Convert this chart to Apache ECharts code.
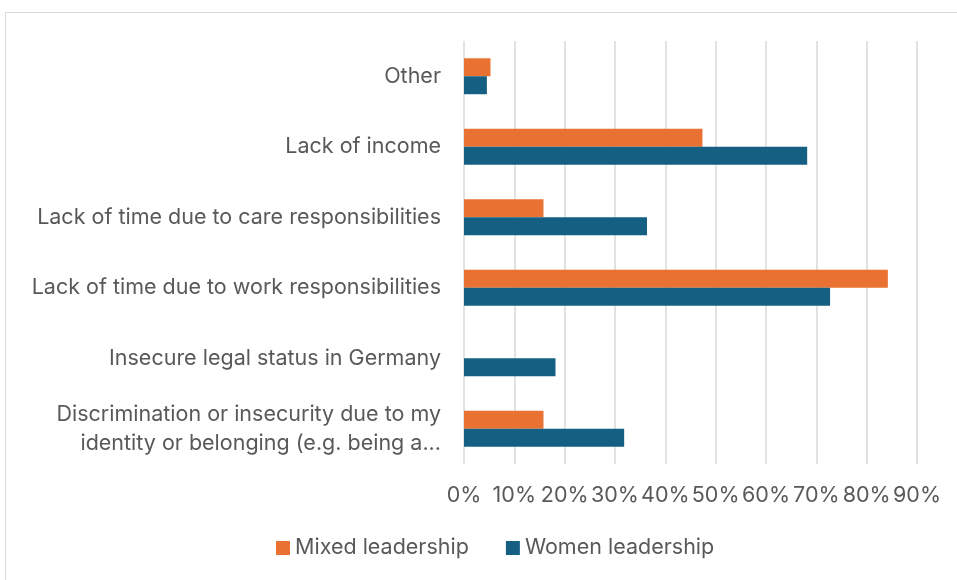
<!DOCTYPE html>
<html>
<head>
<meta charset="utf-8">
<script src="https://cdn.jsdelivr.net/npm/echarts@6/dist/echarts.min.js"></script>
<style>
  html, body { margin: 0; padding: 0; background: #fff; }
  #chart { width: 957px; height: 580px; }
</style>
</head>
<body>
<div id="chart"></div>
<script>
// Barriers to participation, by leadership type (share of respondents, %)
const categories = [
  'Discrimination or insecurity due to my\nidentity or belonging (e.g. being a...',
  'Insecure legal status in Germany',
  'Lack of time due to work responsibilities',
  'Lack of time due to care responsibilities',
  'Lack of income',
  'Other'
];
const mixedLeadership = [15.79, 0, 84.21, 15.79, 47.37, 5.26];
const womenLeadership = [31.82, 18.18, 72.73, 36.36, 68.18, 4.55];
const tickLabels = ['0%', '10%', '20%', '30%', '40%', '50%', '60%', '70%', '80%', '90%'];

const FONT = 'Inter, "Noto Sans", sans-serif';
const TEXT = '#595959';
const FS = 21.5;

const chart = echarts.init(document.getElementById('chart'), null, { renderer: 'canvas' });
chart.setOption({
  backgroundColor: '#ffffff',
  animation: false,
  graphic: [{
    type: 'rect',
    shape: { x: 5.5, y: 12.5, width: 980, height: 600 },
    style: { fill: 'none', stroke: '#d9d9d9', lineWidth: 1 },
    silent: true
  }],
  grid: { left: 464, right: 40, top: 41, bottom: 116, containLabel: false },
  legend: {
    data: ['Mixed leadership', 'Women leadership'],
    bottom: 16,
    left: 271,
    itemWidth: 14,
    itemHeight: 14,
    itemGap: 37,
    icon: 'rect',
    textStyle: { color: TEXT, fontSize: FS, fontFamily: FONT }
  },
  xAxis: {
    type: 'value',
    min: 0,
    max: 90,
    interval: 10,
    axisLine: { show: false },
    axisTick: { show: false },
    splitLine: { lineStyle: { color: '#d9d9d9', width: 1.5 } },
    axisLabel: {
      color: TEXT, fontSize: FS, fontFamily: FONT, margin: 21,
      formatter: v => tickLabels[Math.round(v / 10)]
    }
  },
  yAxis: {
    type: 'category',
    data: categories,
    axisLine: { show: false },
    axisTick: { show: false },
    axisLabel: {
      color: TEXT, fontSize: FS, fontFamily: FONT, margin: 23,
      lineHeight: 29, align: 'right'
    }
  },
  series: [
    {
      name: 'Mixed leadership',
      type: 'bar',
      data: mixedLeadership,
      itemStyle: { color: '#E97132' },
      barGap: '0%',
      barCategoryGap: '49%'
    },
    {
      name: 'Women leadership',
      type: 'bar',
      data: womenLeadership,
      itemStyle: { color: '#156082' },
      barGap: '0%',
      barCategoryGap: '49%'
    }
  ]
});
</script>
</body>
</html>
